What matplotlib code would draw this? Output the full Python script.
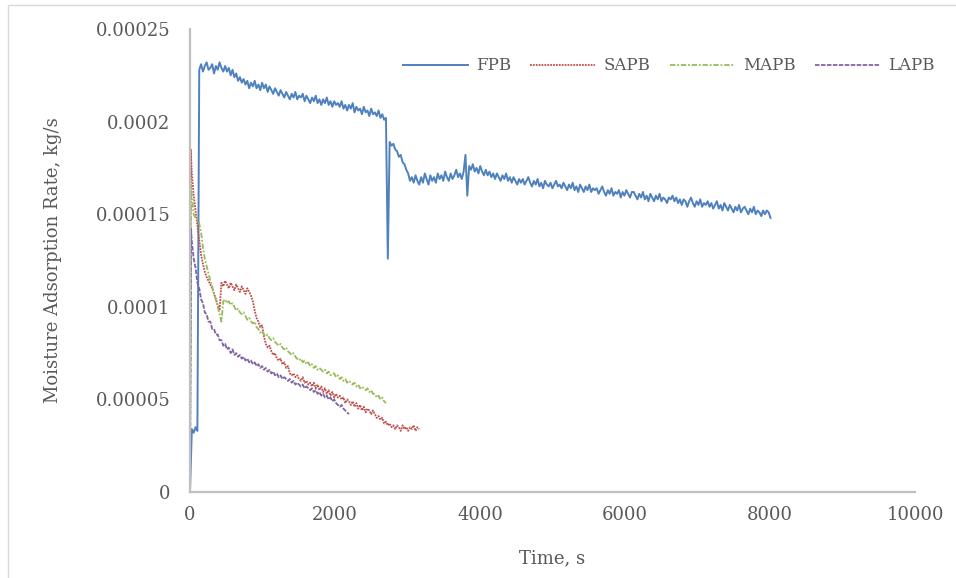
import numpy as np
import matplotlib
matplotlib.use("Agg")
import matplotlib.pyplot as plt
from matplotlib.patches import Rectangle

step = 25.5
fpb_v = [0, 34, 32, 35, 33, 228, 231, 227, 230, 232, 228, 229, 231, 226, 230, 228, 232, 229, 227, 230,
         227, 229, 225, 228, 224, 226, 222, 224, 221, 223, 220, 222, 218, 221, 219, 222, 218, 220, 217, 221,
         218, 220, 216, 219, 217, 215, 218, 216, 214, 217, 215, 213, 216, 214, 212, 215, 213, 216, 212, 214,
         213, 215, 211, 214, 212, 210, 213, 211, 214, 210, 212, 209, 212, 210, 213, 209, 211, 208, 211, 209,
         210, 208, 211, 207, 209, 206, 209, 207, 210, 205, 208, 206, 207, 204, 208, 205, 206, 203, 207, 204,
         205, 203, 206, 202, 204, 201, 202, 126, 189, 187, 188, 185, 184, 181, 182, 178, 177, 174, 172, 168,
         170, 167, 171, 168, 166, 170, 167, 172, 169, 166, 171, 168, 170, 167, 172, 169, 171, 168, 173, 170,
         168, 172, 169, 171, 174, 170, 172, 169, 173, 182, 160, 176, 174, 177, 173, 175, 172, 176, 173, 171,
         174, 171, 173, 170, 172, 169, 172, 170, 168, 171, 169, 172, 168, 170, 167, 170, 168, 166, 169, 167,
         169, 166, 168, 170, 167, 165, 168, 166, 169, 165, 167, 164, 168, 166, 165, 167, 164, 166, 168, 165,
         166, 164, 167, 165, 163, 166, 164, 167, 163, 165, 162, 166, 164, 162, 165, 163, 166, 162, 164, 163,
         164, 161, 163, 165, 162, 160, 163, 161, 164, 160, 162, 161, 163, 159, 162, 160, 163, 161, 159, 162,
         162, 160, 158, 161, 159, 162, 158, 160, 157, 161, 159, 157, 160, 158, 161, 157, 159, 158, 156, 159,
         158, 160, 157, 159, 156, 158, 155, 158, 157, 154, 157, 159, 156, 154, 157, 155, 158, 154, 156, 155,
         157, 154, 156, 153, 155, 157, 153, 155, 152, 156, 154, 152, 155, 153, 151, 154, 152, 155, 151, 153,
         154, 152, 150, 153, 151, 154, 150, 152, 151, 149, 152, 150, 152, 151, 148]
fpb_t = step * np.arange(len(fpb_v))

sapb_v = [0, 185,
          172, 160, 152, 144, 136, 128, 123, 119, 116, 114, 112, 110, 107, 104, 101, 98, 113, 111, 114,
          112, 110, 113, 111, 109, 112, 110, 108, 111, 109, 107, 110, 108, 106, 103, 98, 94, 92, 89, 90,
          84, 80, 78, 79, 76, 74, 75, 72, 71, 72, 69, 70, 67, 68, 64, 63, 64, 62, 63, 61,
          60, 62, 59, 60, 58, 59, 57, 59, 56, 58, 55, 57, 54, 56, 53, 55, 52, 54, 51, 53,
          51, 52, 50, 51, 48, 50, 49, 47, 49, 46, 48, 45, 47, 44, 46, 43, 45, 44, 42, 44,
          42, 40, 41, 39, 40, 37, 38, 36, 37, 35, 36, 34, 36, 35, 33, 36, 34, 35, 33, 35,
          34, 36, 33, 35, 34]
sapb_t = np.concatenate([[0, 10], step * np.arange(1, len(sapb_v) - 1)])

mapb_v = [0, 166,
          160, 150, 148, 147, 145, 140, 132, 126, 122, 118, 114, 111, 107, 104, 100, 96, 92, 103, 104,
          102, 103, 101, 102, 100, 98, 99, 97, 96, 97, 95, 93, 94, 92, 91, 92, 89, 88, 86, 87,
          85, 84, 85, 83, 82, 83, 81, 80, 79, 80, 78, 77, 78, 76, 75, 74, 75, 73, 72, 71,
          72, 70, 71, 69, 70, 68, 69, 67, 68, 66, 67, 66, 65, 66, 64, 65, 63, 64, 64, 62,
          63, 61, 62, 60, 61, 59, 60, 59, 58, 59, 57, 58, 56, 57, 56, 55, 56, 54, 55, 53,
          53, 51, 52, 50, 51, 49, 48]
mapb_t = np.concatenate([[0, 15], step * np.arange(1, len(mapb_v) - 1)])

lapb_v = [0, 142,
          135, 126, 121, 113, 110, 104, 102, 97, 96, 92, 92, 88, 88, 85, 85, 82, 82, 79, 80,
          77, 78, 75, 77, 74, 75, 73, 74, 72, 73, 71, 72, 70, 71, 69, 70, 68, 69, 67, 68,
          66, 67, 65, 66, 64, 65, 63, 64, 62, 63, 61, 62, 61, 60, 61, 59, 60, 58, 59, 58,
          57, 58, 56, 57, 56, 55, 56, 54, 55, 53, 54, 52, 53, 51, 52, 50, 51, 49, 50, 48,
          47, 46, 47, 45, 44, 43, 42]
lapb_t = np.concatenate([[0, 15], step * np.arange(1, len(lapb_v) - 1)])

series = [
    ("FPB", fpb_t, fpb_v, "#4F81BD", "-", 1.4),
    ("SAPB", sapb_t, sapb_v, "#C0504D", (0, (1, 0.6)), 1.3),
    ("MAPB", mapb_t, mapb_v, "#9BBB59", (0, (3, 1, 1, 1)), 1.3),
    ("LAPB", lapb_t, lapb_v, "#8064A2", (0, (2.5, 0.8)), 1.3),
]

yticks = [0, 0.00005, 0.0001, 0.00015, 0.0002, 0.00025]
ytick_labels = ["0", "0.00005", "0.0001", "0.00015", "0.0002", "0.00025"]
xticks = [0, 2000, 4000, 6000, 8000, 10000]

plt.rcParams["font.family"] = ["DejaVu Serif"]
text_color = "#595959"
axis_color = "#BFBFBF"
fs = 13

fig = plt.figure(figsize=(9.56, 5.78), dpi=100)
ax = fig.add_axes([190 / 956, 86 / 578, 725 / 956, 463 / 578])

for name, t, v, color, ls, lw in series:
    ax.plot(t, np.array(v) * 1e-6, color=color, linestyle=ls, linewidth=lw, label=name)

ax.set_xlim(0, 10000)
ax.set_ylim(0, 0.00025)
ax.set_xticks(xticks)
ax.set_xticklabels([str(x) for x in xticks])
ax.set_yticks(yticks)
ax.set_yticklabels(ytick_labels)
ax.tick_params(length=0, labelsize=fs, labelcolor=text_color)
ax.tick_params(axis="y", pad=14)
ax.tick_params(axis="x", pad=10)

for side in ["top", "right"]:
    ax.spines[side].set_visible(False)
for side in ["left", "bottom"]:
    ax.spines[side].set_color(axis_color)
    ax.spines[side].set_linewidth(1.6)

ax.set_xlabel("Time, s", fontsize=fs, color=text_color, labelpad=18)
ax.set_ylabel("Moisture Adsorption Rate, kg/s", fontsize=fs, color=text_color, labelpad=24)

leg = ax.legend(loc="center right", bbox_to_anchor=(935 / 956, 1 - 66 / 578),
                bbox_transform=fig.transFigure, ncol=4, frameon=False,
                borderpad=0, borderaxespad=0,
                fontsize=12, handlelength=3.9, columnspacing=1.16, handletextpad=0.5)
for txt in leg.get_texts():
    txt.set_color(text_color)

# chart-area border: only its left and top edges fall inside the picture
fig.patches.append(Rectangle((8 / 956, -0.05), 1.1, 1 - 5 / 578 + 0.05,
                             transform=fig.transFigure, fill=False,
                             edgecolor="#D9D9D9", linewidth=1))

fig.savefig("out.png", dpi=100)
